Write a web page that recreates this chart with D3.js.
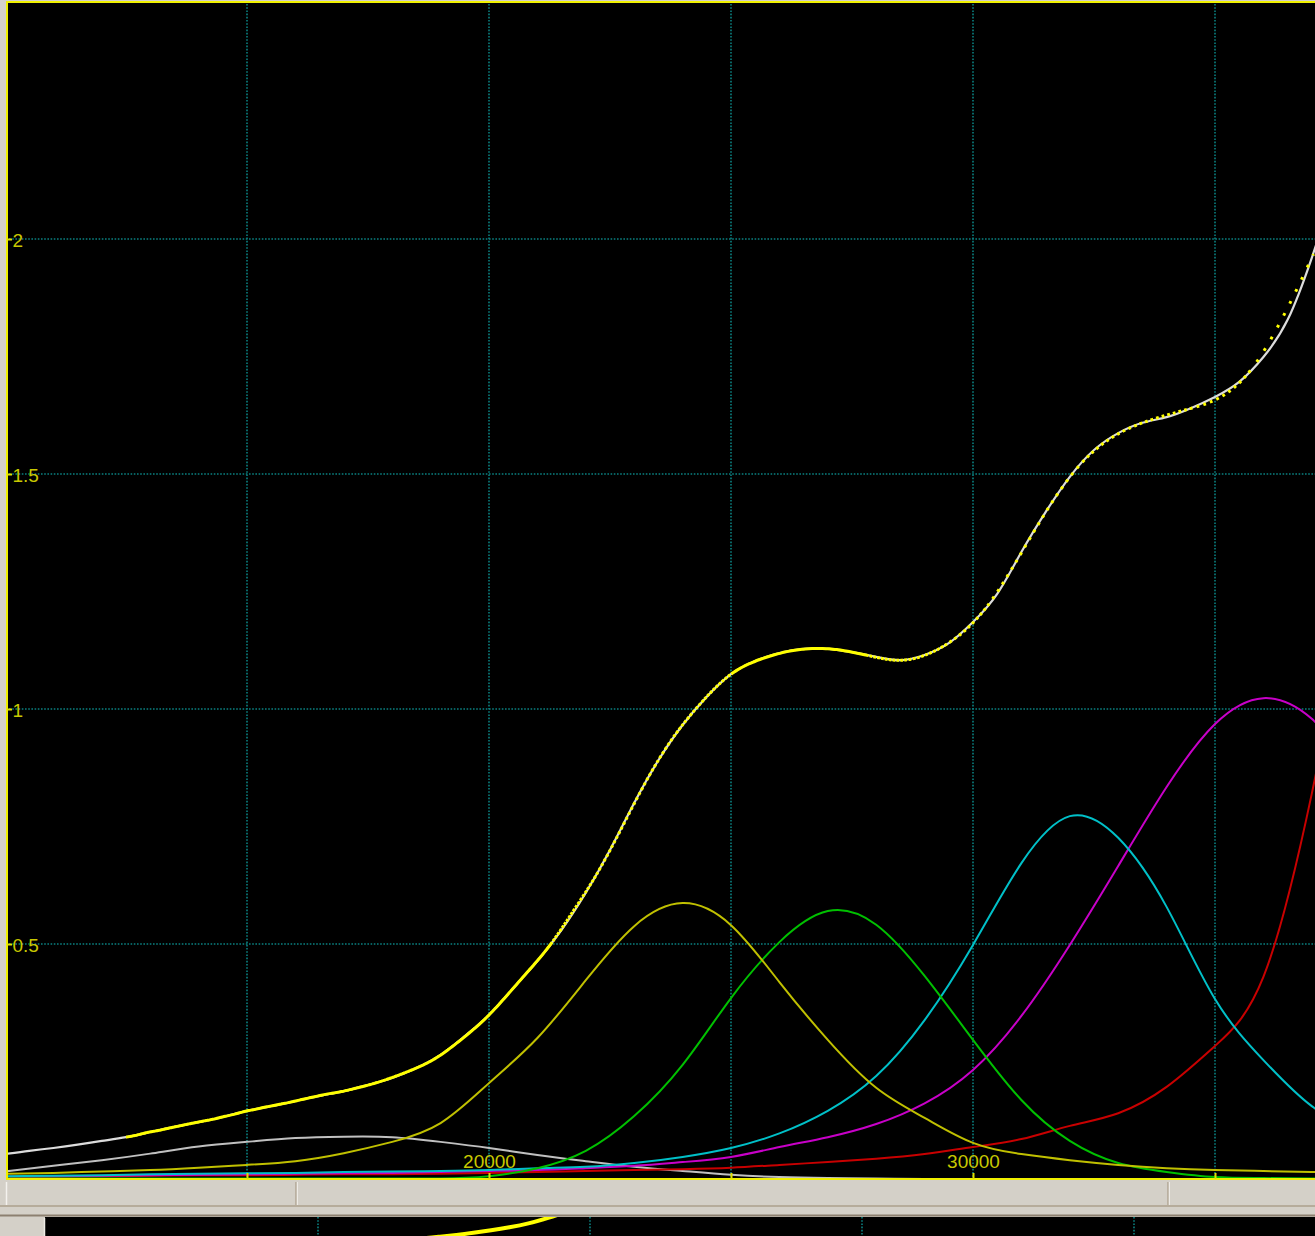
<!DOCTYPE html>
<html>
<head>
<meta charset="utf-8">
<script src="https://cdn.jsdelivr.net/npm/d3@7"></script>
<style>
  html, body { margin: 0; padding: 0; background: #d4d0c8; overflow: hidden; }
  svg { display: block; }
</style>
</head>
<body>
<svg id="chart" width="1315" height="1236"></svg>
<script>
// ---- data -------------------------------------------------------------
// wavenumber grid (cm-1) for the fitted band components
const bandWaveNumbers = [10000, 11000, 12000, 13000, 14000, 15000, 16000, 17000, 18000, 19000,
  20000, 21000, 22000, 23000, 24000, 25000, 26000, 27000, 28000, 29000,
  30000, 31000, 32000, 33000, 34000, 35000, 36000, 37000, 38000];

const bandGray    = [0.016, 0.028, 0.040, 0.054, 0.069, 0.079, 0.087, 0.090, 0.089, 0.079,
  0.066, 0.051, 0.038, 0.026, 0.017, 0.009, 0.004, 0.002, 0.001, 0.000,
  0.000, 0.000, 0.000, 0.000, 0.000, 0.000, 0.000, 0.000, 0.000];
const bandOlive   = [0.011, 0.013, 0.016, 0.019, 0.024, 0.030, 0.038, 0.055, 0.079, 0.119,
  0.204, 0.300, 0.423, 0.538, 0.587, 0.540, 0.419, 0.296, 0.194, 0.130,
  0.077, 0.053, 0.040, 0.030, 0.023, 0.019, 0.017, 0.015, 0.014];
const bandGreen   = [0.001, 0.001, 0.001, 0.001, 0.001, 0.001, 0.001, 0.001, 0.001, 0.001,
  0.006, 0.023, 0.060, 0.134, 0.243, 0.385, 0.504, 0.570, 0.541, 0.432,
  0.296, 0.168, 0.081, 0.034, 0.015, 0.004, 0.002, 0.001, 0.001];
const bandCyan    = [0.006, 0.007, 0.008, 0.010, 0.011, 0.012, 0.013, 0.015, 0.016, 0.017,
  0.019, 0.023, 0.026, 0.034, 0.047, 0.066, 0.097, 0.145, 0.219, 0.338,
  0.498, 0.672, 0.772, 0.726, 0.579, 0.383, 0.253, 0.155, 0.100];
const bandMagenta = [0.005, 0.006, 0.007, 0.008, 0.009, 0.010, 0.011, 0.012, 0.013, 0.015,
  0.017, 0.019, 0.023, 0.028, 0.036, 0.047, 0.068, 0.089, 0.117, 0.161,
  0.232, 0.347, 0.498, 0.666, 0.834, 0.968, 1.023, 0.979, 0.860];
const bandRed     = [0.004, 0.005, 0.006, 0.007, 0.008, 0.008, 0.009, 0.010, 0.010, 0.011,
  0.013, 0.015, 0.017, 0.019, 0.021, 0.024, 0.030, 0.036, 0.043, 0.053,
  0.068, 0.085, 0.113, 0.140, 0.196, 0.283, 0.430, 0.820, 1.350];

// total fitted curve
const fitWaveNumbers = [10000, 10500, 11000, 11500, 12000, 12500, 13000, 13500, 14000, 14500,
  15000, 15500, 16000, 16500, 17000, 17500, 18000, 18500, 19000, 19500,
  20000, 20500, 21000, 21500, 22000, 22500, 23000, 23500, 24000, 24500,
  25000, 25500, 26000, 26500, 27000, 27500, 28000, 28500, 29000, 29500,
  30000, 30500, 31000, 31500, 32000, 32500, 33000, 33500, 34000, 34500,
  35000, 35500, 36000, 36500, 37000, 37500, 38000];
const fitValues = [0.053, 0.060, 0.066, 0.073, 0.081, 0.089, 0.100, 0.111, 0.121, 0.132,
  0.145, 0.155, 0.166, 0.177, 0.187, 0.200, 0.215, 0.236, 0.264, 0.304,
  0.349, 0.406, 0.464, 0.530, 0.609, 0.700, 0.800, 0.891, 0.966, 1.026,
  1.074, 1.102, 1.119, 1.128, 1.128, 1.121, 1.111, 1.104, 1.115, 1.140,
  1.185, 1.245, 1.334, 1.419, 1.494, 1.551, 1.587, 1.609, 1.621, 1.640,
  1.664, 1.696, 1.749, 1.828, 1.960, 2.126, 2.330];

// measured spectrum, wavelength in nm (recorded at 1 nm steps, listed every 10 nm)
const measuredNm = [800, 790, 780, 770, 760, 750, 740, 730, 720, 710,
  700, 690, 680, 670, 660, 650, 640, 630, 620, 610,
  600, 590, 580, 570, 560, 550, 540, 530, 520, 510,
  500, 490, 480, 470, 460, 450, 440, 430, 420, 410,
  400, 390, 380, 370, 360, 350, 340, 330, 320, 310,
  300, 290, 280, 270];
const measuredAbs = [0.089, 0.092, 0.096, 0.100, 0.103, 0.107, 0.111, 0.115, 0.119, 0.123,
  0.127, 0.132, 0.137, 0.143, 0.148, 0.153, 0.158, 0.163, 0.169, 0.175,
  0.181, 0.186, 0.193, 0.201, 0.211, 0.223, 0.237, 0.255, 0.281, 0.312,
  0.349, 0.395, 0.445, 0.500, 0.570, 0.648, 0.744, 0.848, 0.940, 1.014,
  1.074, 1.107, 1.125, 1.128, 1.115, 1.104, 1.135, 1.220, 1.376, 1.525,
  1.602, 1.639, 1.718, 1.968];
const measuredStepNm = 1;

// axis ticks
const xGridValues = [15000, 20000, 25000, 30000, 35000];
const xLabelValues = [20000, 30000];
const yGridValues = [0.5, 1, 1.5, 2];
const overviewGridValues = [15000, 20000, 25000, 30000];

// ---- drawing ----------------------------------------------------------
const svg = d3.select("#chart");
const W = 1315, H = 1236;
const plot = { left: 7, top: 2, right: 1315, bottom: 1179 };

const x = d3.scaleLinear().domain([10000, 37000]).range([5, 1311.8]);
const y = d3.scaleLinear().domain([0, 2.5]).range([1179, 4]);

svg.append("rect").attr("width", W).attr("height", H).attr("fill", "#d4d0c8");
svg.append("rect")
  .attr("x", plot.left).attr("y", plot.top)
  .attr("width", plot.right - plot.left).attr("height", plot.bottom - plot.top)
  .attr("fill", "#000");

const defs = svg.append("defs");
defs.append("clipPath").attr("id", "plotClip").append("rect")
  .attr("x", plot.left + 1).attr("y", plot.top + 1)
  .attr("width", plot.right - plot.left).attr("height", plot.bottom - plot.top - 1);

// dotted grid
const grid = svg.append("g").attr("stroke", "#0a8080").attr("stroke-width", 1.6)
  .attr("stroke-dasharray", "1.6,1.6");
grid.selectAll("line.v").data(xGridValues).join("line")
  .attr("x1", d => x(d)).attr("x2", d => x(d))
  .attr("y1", plot.top + 2).attr("y2", plot.bottom - 1);
grid.selectAll("line.h").data(yGridValues).join("line")
  .attr("x1", plot.left + 2).attr("x2", plot.right)
  .attr("y1", d => y(d)).attr("y2", d => y(d));

const curves = svg.append("g").attr("clip-path", "url(#plotClip)").attr("fill", "none");

function bandLine(xs) {
  return d3.line()
    .x((d, i) => x(xs[i]))
    .y(d => y(d))
    .curve(d3.curveNatural);
}

const bands = [
  { values: bandGray,    color: "#c0c0c0" },
  { values: bandRed,     color: "#c80000" },
  { values: bandMagenta, color: "#c800c8" },
  { values: bandCyan,    color: "#00c0c8" },
  { values: bandGreen,   color: "#00c000" },
  { values: bandOlive,   color: "#c0c000" }
];
bands.forEach(b => {
  curves.append("path")
    .attr("d", bandLine(bandWaveNumbers)(b.values))
    .attr("stroke", b.color).attr("stroke-width", 2);
});

// fitted sum
curves.append("path")
  .attr("d", bandLine(fitWaveNumbers)(fitValues))
  .attr("stroke", "#dcdcdc").attr("stroke-width", 2.2);

// measured spectrum: one square dot per recorded wavelength step
const measuredPts = measuredNm.map((nm, i) => [x(1e7 / nm), y(measuredAbs[i])]);
const measuredPath = curves.append("path")
  .attr("d", d3.line().curve(d3.curveNatural)(measuredPts))
  .attr("stroke", "#ffff00").attr("stroke-width", 3)
  .attr("stroke-linecap", "butt");
{
  const total = measuredPath.node().getTotalLength();
  const chords = [];
  for (let i = 1; i < measuredPts.length; i++) {
    chords.push(Math.hypot(measuredPts[i][0] - measuredPts[i - 1][0], measuredPts[i][1] - measuredPts[i - 1][1]));
  }
  const k = total / d3.sum(chords);
  const dot = 2.8;
  const pattern = [];
  chords.forEach((c, i) => {
    const steps = Math.abs(measuredNm[i] - measuredNm[i + 1]) / measuredStepNm;
    const s = c * k / steps;
    for (let j = 0; j < steps; j++) {
      if (s < dot + 0.9) pattern.push(s, 0);
      else pattern.push(dot, s - dot);
    }
  });
  measuredPath.attr("stroke-dasharray", pattern.map(v => v.toFixed(2)).join(","))
    .attr("stroke-dashoffset", dot / 2);
}

// frame
const frame = svg.append("g").attr("stroke", "#f0f000").attr("stroke-width", 2);
frame.append("line").attr("x1", plot.left).attr("x2", plot.left).attr("y1", plot.top - 1).attr("y2", plot.bottom + 1);
frame.append("line").attr("x1", plot.left - 1).attr("x2", plot.right).attr("y1", plot.top).attr("y2", plot.top);
frame.append("line").attr("x1", plot.left - 1).attr("x2", plot.right).attr("y1", plot.bottom).attr("y2", plot.bottom);

// axes drawn inside the frame
const axisFont = "'Liberation Sans', Arial, sans-serif";
const yAxis = svg.append("g").attr("transform", `translate(${plot.left},0)`)
  .call(d3.axisRight(y).tickValues(yGridValues).tickSize(5).tickPadding(0.5).tickFormat(d3.format("")));
const xAxis = svg.append("g").attr("transform", `translate(0,${plot.bottom})`)
  .call(d3.axisTop(x).tickValues(xGridValues).tickSize(6).tickPadding(5)
    .tickFormat(d => xLabelValues.includes(d) ? d3.format("")(d) : ""));
[yAxis, xAxis].forEach(a => {
  a.select(".domain").remove();
  a.selectAll(".tick line").attr("stroke", "#e0e000").attr("stroke-width", 2);
  a.selectAll(".tick text").attr("fill", "#c8c800").attr("font-family", axisFont).attr("font-size", 19);
});
yAxis.selectAll(".tick text").attr("dy", "0.37em");

// status bar under the plot
const bar = svg.append("g");
bar.append("line").attr("x1", 6.5).attr("x2", 6.5).attr("y1", 1182).attr("y2", 1205)
  .attr("stroke", "#f4f2ee").attr("stroke-width", 1.5);
bar.append("line").attr("x1", 0).attr("x2", W).attr("y1", 1206).attr("y2", 1206)
  .attr("stroke", "#aca08c").attr("stroke-width", 1.6);
bar.append("line").attr("x1", 0).attr("x2", W).attr("y1", 1215.5).attr("y2", 1215.5)
  .attr("stroke", "#8c8070").attr("stroke-width", 2);
[296, 1168].forEach(px => {
  bar.append("line").attr("x1", px).attr("x2", px).attr("y1", 1182).attr("y2", 1205)
    .attr("stroke", "#a89c88").attr("stroke-width", 1.2);
  bar.append("line").attr("x1", px + 1.3).attr("x2", px + 1.3).attr("y1", 1182).attr("y2", 1205)
    .attr("stroke", "#f4f2ee").attr("stroke-width", 1);
});

// overview strip below
const ov = { left: 45, top: 1217, right: W, bottom: H };
svg.append("rect").attr("x", ov.left).attr("y", ov.top)
  .attr("width", ov.right - ov.left).attr("height", ov.bottom - ov.top).attr("fill", "#000");
svg.append("rect").attr("x", 0).attr("y", ov.top + 1).attr("width", ov.left - 1).attr("height", ov.bottom - ov.top)
  .attr("fill", "#d4d0c8");
svg.append("line").attr("x1", ov.left - 0.5).attr("x2", ov.left - 0.5).attr("y1", ov.top + 1).attr("y2", H)
  .attr("stroke", "#efece6").attr("stroke-width", 1.5);
defs.append("clipPath").attr("id", "ovClip").append("rect")
  .attr("x", ov.left).attr("y", ov.top).attr("width", ov.right - ov.left).attr("height", ov.bottom - ov.top);
const ox = d3.scaleLinear().domain([10000, 37000]).range([46, 1514.8]);
const oy = d3.scaleLinear().domain([0, 1]).range([1278, 1064]);
const ovg = svg.append("g").attr("clip-path", "url(#ovClip)");
ovg.selectAll("line").data(overviewGridValues).join("line")
  .attr("x1", d => ox(d)).attr("x2", d => ox(d)).attr("y1", ov.top).attr("y2", ov.bottom)
  .attr("stroke", "#0a8080").attr("stroke-width", 1.6).attr("stroke-dasharray", "1.6,1.6");
ovg.append("path")
  .attr("d", d3.line().x((d, i) => ox(1e7 / measuredNm[i])).y(d => oy(d))
    .curve(d3.curveNatural)(measuredAbs))
  .attr("fill", "none").attr("stroke", "#ffff00").attr("stroke-width", 4);
</script>
</body>
</html>
